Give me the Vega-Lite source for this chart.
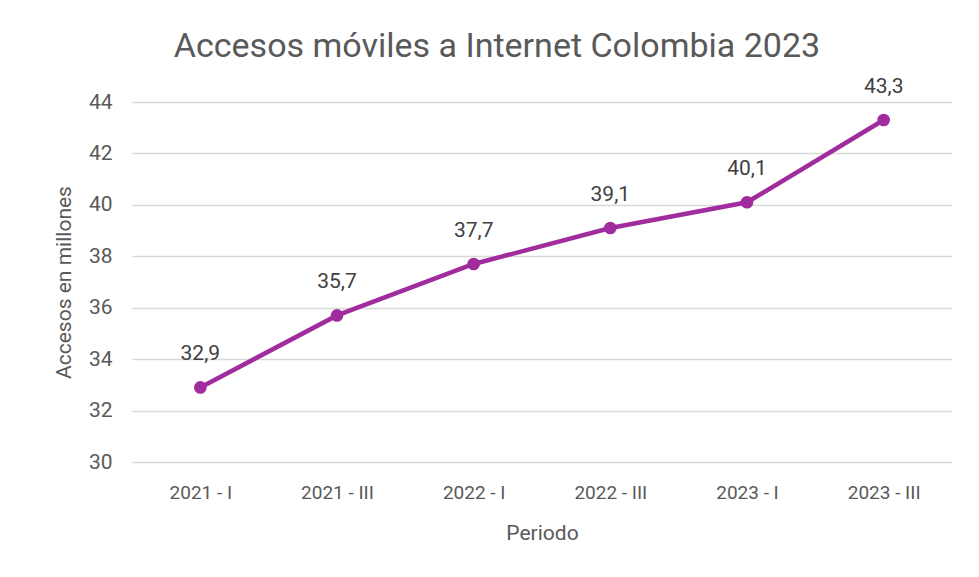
{
  "$schema": "https://vega.github.io/schema/vega-lite/v6.json",
  "width": 820,
  "height": 360,
  "autosize": {"type": "none"},
  "padding": {"left": 132, "top": 102, "right": 27, "bottom": 115},
  "background": "white",
  "title": {
    "text": "Accesos móviles a Internet Colombia 2023",
    "anchor": "middle",
    "frame": "group",
    "dx": -45,
    "offset": 12,
    "fontSize": 34,
    "font": "Roboto",
    "fontWeight": "normal",
    "color": "#595959"
  },
  "data": {
    "values": [
      {"Periodo": "2021 - I", "Accesos": 32.9},
      {"Periodo": "2021 - III", "Accesos": 35.7},
      {"Periodo": "2022 - I", "Accesos": 37.7},
      {"Periodo": "2022 - III", "Accesos": 39.1},
      {"Periodo": "2023 - I", "Accesos": 40.1},
      {"Periodo": "2023 - III", "Accesos": 43.3}
    ]
  },
  "encoding": {
    "x": {
      "field": "Periodo",
      "type": "ordinal",
      "sort": null,
      "scale": {"type": "point", "padding": 0.5},
      "axis": {
        "title": "Periodo",
        "labelAngle": 0,
        "domain": false,
        "ticks": false,
        "labelPadding": 21,
        "labelFontSize": 19,
        "labelFont": "Roboto",
        "labelColor": "#595959",
        "titleFontSize": 21,
        "titleFont": "Roboto",
        "titleFontWeight": "normal",
        "titleColor": "#595959",
        "titlePadding": 20
      }
    },
    "y": {
      "field": "Accesos",
      "type": "quantitative",
      "scale": {"domain": [30, 44], "nice": false, "zero": false},
      "axis": {
        "title": "Accesos en millones",
        "values": [30, 32, 34, 36, 38, 40, 42, 44],
        "domain": false,
        "ticks": false,
        "labelPadding": 20,
        "labelFontSize": 21,
        "labelFont": "Roboto",
        "labelColor": "#595959",
        "titleFontSize": 21,
        "titleFont": "Roboto",
        "titleFontWeight": "normal",
        "titleColor": "#595959",
        "titlePadding": 14,
        "gridColor": "#d9d9d9",
        "gridWidth": 1.5
      }
    }
  },
  "layer": [
    {
      "mark": {"type": "line", "color": "#a02c9e", "strokeWidth": 4.5, "point": {"filled": true, "size": 160, "color": "#a02c9e", "opacity": 1}}
    },
    {
      "mark": {"type": "text", "dy": -33, "baseline": "middle", "fontSize": 21, "font": "Roboto", "color": "#404040"},
      "encoding": {
        "text": {"field": "Accesos", "type": "quantitative", "format": ".1f"}
      }
    }
  ],
  "config": {
    "view": {"stroke": null},
    "locale": {
      "number": {"decimal": ",", "thousands": ".", "grouping": [3], "currency": ["$", ""]}
    }
  }
}
